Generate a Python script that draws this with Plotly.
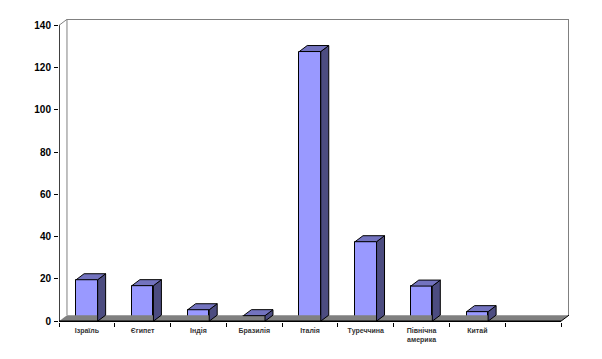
import plotly.graph_objects as go

# ---- data ----
categories = ["Ізраїль", "Єгипет", "Індія", "Бразилія", "Італія", "Туреччина",
              "Північна<br>америка", "Китай"]
values = [19.6, 16.8, 5.4, 2.6, 127.6, 37.6, 16.6, 4.5]
n_slots = 9                      # the chart has one empty category slot at the end
y_ticks = [0, 20, 40, 60, 80, 100, 120, 140]

# ---- style / geometry ----
BAR_W = 0.386                    # front face width (category units)
DX = 0.143                       # depth offset, x (category units)
DY = 2.84                        # depth offset, y (value units)
FRONT = "#9999FF"
SIDE = "#4C4C80"
TOP = "#7373BF"
X0, X1 = -0.5, n_slots - 0.5
YMAX = y_ticks[-1]

xs = list(range(len(categories)))

fig = go.Figure()

# floor (behind the bars)
fig.add_trace(go.Scatter(
    x=[X0, X1, X1 + DX, X0 + DX, X0], y=[0, 0, DY, DY, 0],
    mode="lines", fill="toself", fillcolor="#808080",
    line=dict(color="#808080", width=0), hoverinfo="skip", showlegend=False))

# front faces
fig.add_trace(go.Bar(
    x=xs, y=values, width=BAR_W, marker=dict(color=FRONT, line=dict(color="black", width=1)),
    showlegend=False, hoverinfo="skip"))

# side and top faces
sx, sy = [], []
tx, ty = [], []
for x, v in zip(xs, values):
    r = x + BAR_W / 2
    l = x - BAR_W / 2
    sx += [r, r + DX, r + DX, r, r, None]
    sy += [0, DY, v + DY, v, 0, None]
    tx += [l, r, r + DX, l + DX, l, None]
    ty += [v, v, v + DY, v + DY, v, None]
fig.add_trace(go.Scatter(x=sx, y=sy, mode="lines", fill="toself", fillcolor=SIDE,
                         line=dict(color="black", width=1), hoverinfo="skip",
                         showlegend=False, connectgaps=False))
fig.add_trace(go.Scatter(x=tx, y=ty, mode="lines", fill="toself", fillcolor=TOP,
                         line=dict(color="black", width=1), hoverinfo="skip",
                         showlegend=False, connectgaps=False))

# invisible trace on the boundary-tick axis
fig.add_trace(go.Scatter(x=[X0], y=[0], xaxis="x2", mode="markers",
                         marker=dict(opacity=0), hoverinfo="skip", showlegend=False))

shapes = [
    # back wall
    dict(type="line", xref="x", yref="y", x0=X0 + DX, y0=DY, x1=X0 + DX, y1=YMAX + DY,
         line=dict(color="#808080", width=1)),
    dict(type="line", xref="x", yref="y", x0=X0 + DX, y0=YMAX + DY, x1=X1 + DX, y1=YMAX + DY,
         line=dict(color="#808080", width=1.5)),
    dict(type="line", xref="x", yref="y", x0=X1 + DX, y0=DY, x1=X1 + DX, y1=YMAX + DY,
         line=dict(color="#808080", width=2)),
    dict(type="line", xref="x", yref="y", x0=X0, y0=YMAX, x1=X0 + DX, y1=YMAX + DY,
         line=dict(color="#808080", width=1)),
    # axes
    dict(type="line", xref="x", yref="y", x0=X0, y0=0, x1=X0, y1=YMAX,
         line=dict(color="black", width=1.5)),
    dict(type="line", xref="x", yref="y", x0=X0, y0=0, x1=X1, y1=0,
         line=dict(color="black", width=1.5)),
    dict(type="line", xref="x", yref="y", x0=X1, y0=0, x1=X1 + DX, y1=DY,
         line=dict(color="black", width=1)),
]

# the page body has an 8px margin, so the figure is drawn 8px smaller on each side
fig.update_layout(
    width=586, height=343,
    margin=dict(l=50.5, r=25.3, t=10.5, b=29.35, autoexpand=False),
    paper_bgcolor="white", plot_bgcolor="white",
    bargap=0, shapes=shapes,
    xaxis=dict(range=[X0, X1 + DX], tickvals=xs, ticktext=categories,
               showgrid=False, zeroline=False, showline=False, ticks="", automargin=False,
               tickfont=dict(family="Liberation Sans, Arial", size=7, color="#333333", weight="bold"),
               ticklabelstandoff=3, fixedrange=True),
    xaxis2=dict(range=[X0, X1 + DX], overlaying="x", side="bottom", anchor="y", automargin=False,
                tickvals=[X0 + i for i in range(n_slots + 1)], ticktext=[""] * (n_slots + 1),
                ticks="outside", ticklen=4, tickcolor="black", tickwidth=1,
                showgrid=False, zeroline=False, showline=False),
    yaxis=dict(range=[-0.4, 143], tickvals=y_ticks, ticks="outside", ticklen=4, automargin=False,
               tickcolor="black", tickwidth=1, showgrid=False, zeroline=False, showline=False,
               tickfont=dict(family="Liberation Sans, Arial", size=10, color="black", weight="bold"),
               ticklabelstandoff=1),
)

fig.write_html("out.html")
